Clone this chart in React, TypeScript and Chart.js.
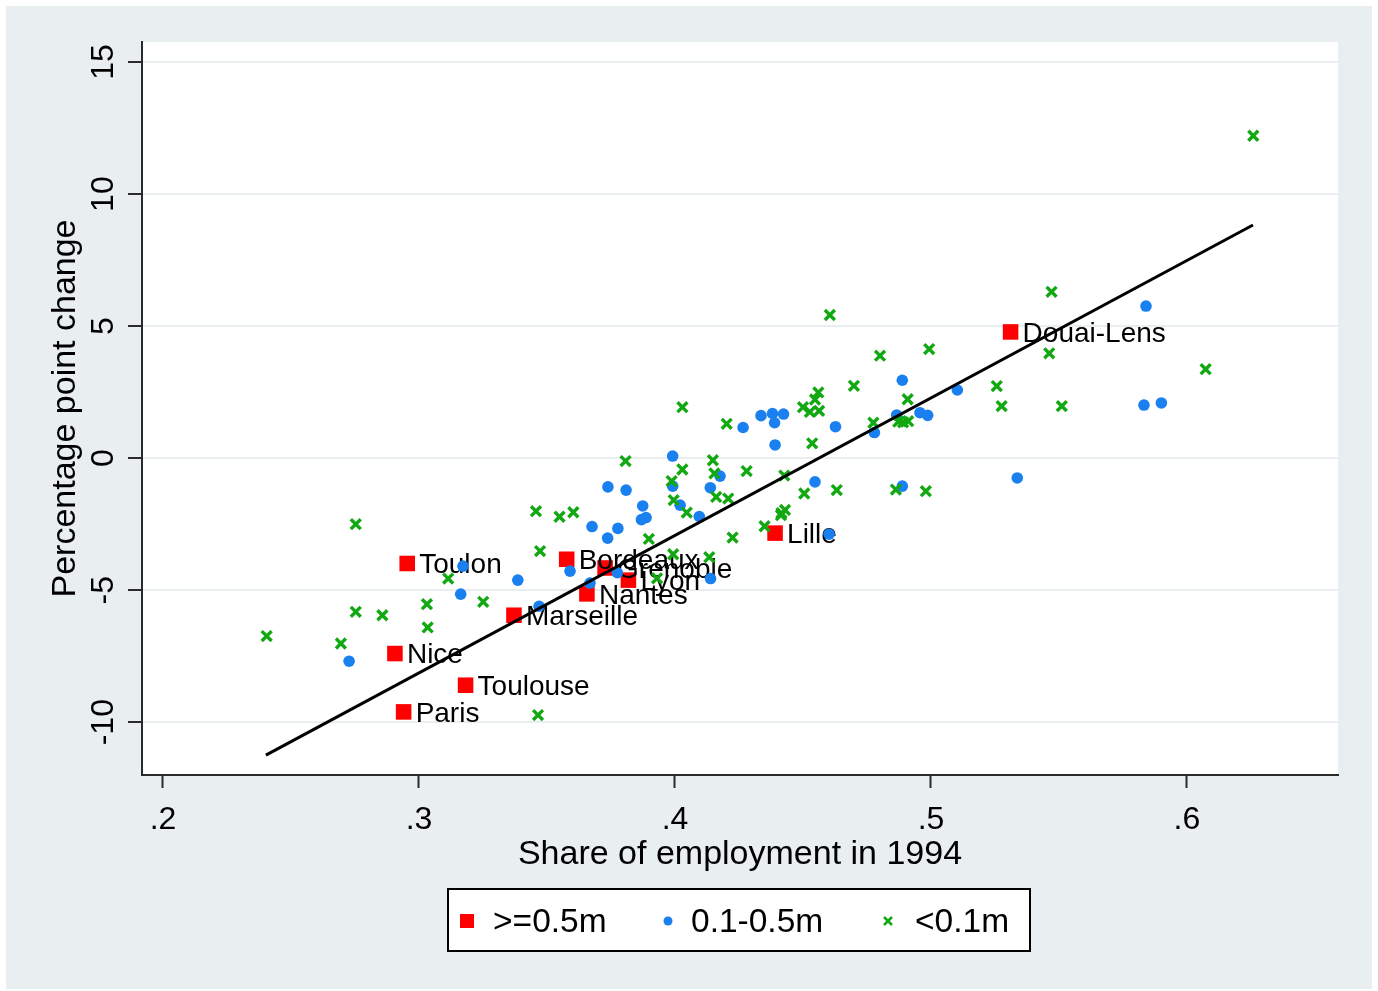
import React, { useEffect, useRef } from 'react';
import { Chart, registerables } from 'chart.js';

Chart.register(...registerables);

// ---------- data ----------
const seriesNames = ['>=0.5m', '0.1-0.5m', '<0.1m'];
const xTitle = 'Share of employment in 1994';
const yTitle = 'Percentage point change';

const xTicks = [0.2, 0.3, 0.4, 0.5, 0.6];
const yTicks = [-10, -5, 0, 5, 10, 15];

const bigNames = ['Douai-Lens', 'Lille', 'Toulon', 'Bordeaux', 'Grenoble', 'Lyon', 'Nantes', 'Marseille', 'Nice', 'Toulouse', 'Paris'];
const bigX = [0.5311, 0.4391, 0.2954, 0.3577, 0.3727, 0.3818, 0.3656, 0.3371, 0.2906, 0.3182, 0.2940];
const bigY = [4.78, -2.84, -3.99, -3.83, -4.16, -4.62, -5.14, -5.95, -7.40, -8.60, -9.61];

const midX = [0.2727, 0.3163, 0.3172, 0.3386, 0.3469, 0.3590, 0.3668, 0.3775, 0.3676, 0.3737, 0.3777, 0.3869, 0.3887, 0.3874, 0.3738, 0.3809, 0.3991, 0.3991, 0.4020, 0.4095, 0.4138, 0.4176, 0.4139, 0.4266, 0.4336, 0.4381, 0.4424, 0.4389, 0.4391, 0.4547, 0.4627, 0.4602, 0.4779, 0.4866, 0.4888, 0.4888, 0.4957, 0.4987, 0.5103, 0.5337, 0.5840, 0.5832, 0.5900];
const midY = [-7.69, -5.15, -4.09, -4.62, -5.61, -4.28, -4.73, -4.34, -2.59, -3.03, -2.66, -2.33, -2.25, -1.81, -1.09, -1.21, 0.08, -1.06, -1.78, -2.21, -1.12, -0.68, -4.56, 1.16, 1.61, 1.69, 1.67, 1.34, 0.50, -0.90, 1.19, -2.88, 0.97, 1.63, 2.95, -1.06, 1.72, 1.62, 2.58, -0.75, 5.76, 2.01, 2.09];

const smallX = [0.2405, 0.2695, 0.2753, 0.2753, 0.2857, 0.3031, 0.3034, 0.3114, 0.3251, 0.3457, 0.3473, 0.3549, 0.3603, 0.3807, 0.3898, 0.3930, 0.3993, 0.4134, 0.3987, 0.3995, 0.4029, 0.4029, 0.4046, 0.4148, 0.4154, 0.4161, 0.4202, 0.4208, 0.4225, 0.4280, 0.4350, 0.4416, 0.4430, 0.4427, 0.4500, 0.4527, 0.4547, 0.4560, 0.4563, 0.4505, 0.4536, 0.4605, 0.4632, 0.4699, 0.4775, 0.4801, 0.4863, 0.4872, 0.4911, 0.4909, 0.4980, 0.4993, 0.5257, 0.5276, 0.5462, 0.5471, 0.5511, 0.6073, 0.6259, 0.3465, 0.4891, 0.4414];
const smallY = [-6.74, -7.02, -2.50, -5.82, -5.95, -5.53, -6.41, -4.56, -5.44, -2.01, -3.52, -2.22, -2.05, -0.11, -3.06, -4.55, -3.64, -3.75, -0.87, -1.59, -0.43, 1.93, -2.06, -0.08, -0.58, -1.47, 1.30, -1.53, -3.01, -0.49, -2.58, -2.08, -1.96, -0.66, 1.93, 1.75, 2.22, 2.49, 1.79, -1.34, 0.56, 5.42, -1.21, 2.74, 1.34, 3.88, -1.19, 1.38, 1.40, 2.23, -1.25, 4.13, 2.73, 1.97, 3.97, 6.30, 1.97, 3.37, 12.21, -9.73, 1.36, -2.16];

const fitX = [0.2402, 0.6258];
const fitY = [-11.25, 8.83];

// ---------- style ----------
const FONT = '"Liberation Sans", Arial, Helvetica, sans-serif';
const RED = '#ff0000';
const BLUE = '#1a80f0';
const GREEN = '#12a812';
const AXIS = '#2a2a2a';
const GRID = '#e9eff1';
const OUTER = '#e9eef1';

const toPts = (xs: number[], ys: number[]) => xs.map((x, i) => ({ x, y: ys[i] }));

const bgPlugin = {
  id: 'stataBg',
  beforeDraw(chart: any) {
    const { ctx, width, height, chartArea } = chart;
    ctx.save();
    ctx.fillStyle = '#ffffff';
    ctx.fillRect(0, 0, width, height);
    ctx.fillStyle = OUTER;
    ctx.fillRect(6, 6, 1366, 983);
    ctx.fillStyle = '#ffffff';
    ctx.fillRect(chartArea.left, chartArea.top, chartArea.right - chartArea.left, chartArea.bottom - chartArea.top);
    ctx.restore();
  },
};

const labelPlugin = {
  id: 'cityLabels',
  afterDatasetDraw(chart: any, args: any) {
    if (args.index !== 0) return;
    const { ctx } = chart;
    ctx.save();
    ctx.font = `28px ${FONT}`;
    ctx.fillStyle = '#000';
    ctx.textAlign = 'left';
    ctx.textBaseline = 'middle';
    args.meta.data.forEach((pt: any, i: number) => {
      ctx.fillText(bigNames[i], pt.x + 12, pt.y + 2);
    });
    ctx.restore();
  },
};

const legendPlugin = {
  id: 'stataLegend',
  afterDraw(chart: any) {
    const { ctx } = chart;
    const ds = chart.data.datasets;
    ctx.save();
    const bx = 448, by = 889, bw = 582, bh = 62;
    ctx.fillStyle = '#fff';
    ctx.fillRect(bx, by, bw, bh);
    ctx.strokeStyle = '#000';
    ctx.lineWidth = 2;
    ctx.strokeRect(bx, by, bw, bh);
    const cy = 921;
    // marker 1: square
    ctx.fillStyle = ds[0].backgroundColor;
    ctx.fillRect(467 - 7, cy - 7, 14, 14);
    // marker 2: circle
    ctx.fillStyle = ds[1].backgroundColor;
    ctx.beginPath();
    ctx.arc(668, cy, 4.5, 0, Math.PI * 2);
    ctx.fill();
    // marker 3: x
    ctx.strokeStyle = ds[2].borderColor;
    ctx.lineWidth = 2.5;
    ctx.beginPath();
    ctx.moveTo(888 - 4, cy - 4);
    ctx.lineTo(888 + 4, cy + 4);
    ctx.moveTo(888 - 4, cy + 4);
    ctx.lineTo(888 + 4, cy - 4);
    ctx.stroke();
    ctx.fillStyle = '#000';
    ctx.font = `33.5px ${FONT}`;
    ctx.textAlign = 'left';
    ctx.textBaseline = 'middle';
    ctx.fillText(ds[0].label, 493, cy + 2);
    ctx.fillText(ds[1].label, 691, cy + 2);
    ctx.fillText(ds[2].label, 915, cy + 2);
    ctx.restore();
  },
};

export default function App() {
  const ref = useRef<HTMLCanvasElement | null>(null);

  useEffect(() => {
    if (!ref.current) return;
    const chart = new Chart(ref.current, {
      type: 'scatter',
      data: {
        datasets: [
          {
            label: seriesNames[0],
            data: toPts(bigX, bigY),
            pointStyle: 'rect',
            pointRadius: 11,
            backgroundColor: RED,
            borderColor: RED,
            borderWidth: 0,
            order: 4,
          },
          {
            label: seriesNames[1],
            data: toPts(midX, midY),
            pointStyle: 'circle',
            pointRadius: 5.8,
            backgroundColor: BLUE,
            borderColor: BLUE,
            borderWidth: 0,
            order: 3,
          },
          {
            label: seriesNames[2],
            data: toPts(smallX, smallY),
            pointStyle: 'crossRot',
            pointRadius: 7,
            backgroundColor: GREEN,
            borderColor: GREEN,
            borderWidth: 3.4,
            order: 2,
          },
          {
            type: 'line',
            label: 'fit',
            data: toPts(fitX, fitY),
            showLine: true,
            pointRadius: 0,
            borderColor: '#000',
            borderWidth: 3,
            fill: false,
            order: 1,
          } as any,
        ],
      },
      options: {
        responsive: false,
        animation: false,
        events: [],
        layout: { padding: { left: 0, top: 42, right: 40, bottom: 0 } },
        plugins: {
          legend: { display: false },
          tooltip: { enabled: false },
        },
        scales: {
          x: {
            type: 'linear',
            min: 0.1918,
            max: 0.659,
            afterBuildTicks: (s: any) => {
              s.ticks = xTicks.map((v) => ({ value: v }));
            },
            afterFit: (s: any) => {
              s.height = 216;
            },
            grid: {
              drawOnChartArea: false,
              drawTicks: true,
              tickLength: 13,
              tickColor: AXIS,
              tickWidth: 2,
            },
            border: { color: AXIS, width: 2 },
            ticks: {
              padding: 13,
              color: '#000',
              font: { family: FONT, size: 32 },
              callback: (v: any) => Number(v).toFixed(1).replace(/^0/, ''),
            },
            title: {
              display: true,
              text: xTitle,
              color: '#000',
              font: { family: FONT, size: 34 },
              padding: { top: 0, bottom: 116 },
            },
          },
          y: {
            type: 'linear',
            min: -12.0,
            max: 15.76,
            afterBuildTicks: (s: any) => {
              s.ticks = yTicks.map((v) => ({ value: v }));
            },
            afterFit: (s: any) => {
              s.width = 142;
            },
            grid: {
              drawOnChartArea: true,
              color: GRID,
              lineWidth: 2,
              tickLength: 14,
              tickColor: AXIS,
              tickWidth: 2,
            },
            border: { color: AXIS, width: 2 },
            ticks: {
              minRotation: 90,
              maxRotation: 90,
              crossAlign: 'center',
              padding: 1,
              color: '#000',
              font: { family: FONT, size: 32 },
              callback: (v: any) => String(v),
            },
            title: {
              display: true,
              text: yTitle,
              color: '#000',
              font: { family: FONT, size: 34 },
              padding: { top: 45, bottom: 0 },
            },
          },
        },
      },
      plugins: [bgPlugin, labelPlugin, legendPlugin],
    } as any);
    return () => chart.destroy();
  }, []);

  return (
    <div style={{ position: 'fixed', left: 0, top: 0, width: 1378, height: 991, background: '#fff' }}>
      <canvas ref={ref} width={1378} height={991} style={{ display: 'block' }} />
    </div>
  );
}
